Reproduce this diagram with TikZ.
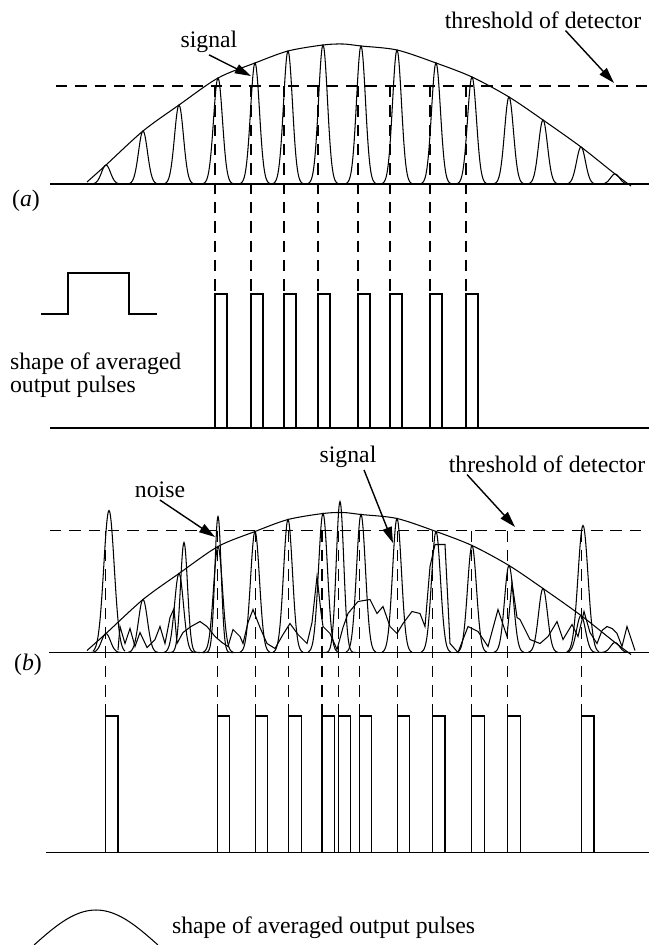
\documentclass[tikz,border=0pt]{standalone}
\usepackage{fontspec}
\setmainfont{Liberation Serif}
\usetikzlibrary{arrows.meta}

% envelope of the signal, #1 = baseline
\newcommand{\envelope}[1]{plot[smooth] coordinates {(87,#1-2) (106,#1-19) (143,#1-53) (179,#1-79) (218,#1-106) (255,#1-121) (288,#1-133) (323,#1-139) (343,#1-140) (361,#1-138) (397,#1-134) (436,#1-121) (472,#1-107) (509,#1-87) (543,#1-64) (581,#1-37) (615,#1-10) (631,#1+2)}}
\newcommand{\sigpulses}{106/19, 143/53, 179/79, 218/106, 255/121, 288/133, 323/139, 361/138, 397/134, 436/121, 472/107, 509/87, 543/64, 581/37, 615/10}

\begin{document}
\begin{tikzpicture}[
  x=0.02cm, y=-0.02cm,
  trace/.style={line width=0.6pt},
  axis/.style={line width=0.9pt},
  thresh/.style={line width=0.6pt, dash pattern=on 6.5pt off 4.5pt},
  drop/.style={line width=0.6pt, dash pattern=on 6.5pt off 4.5pt},
  lbl/.style={font=\fontsize{13.5}{13}\selectfont, inner sep=1pt},
  arr/.style={-{Triangle[length=3.2mm,width=1.9mm]}, line width=0.8pt}
]
\useasboundingbox (0,0) rectangle (649,945);

% Panel (a): signal only
\draw[axis] (50,184) -- (649,184);
\draw[thresh] (56,86) -- (649,86);
\draw[trace] \envelope{184};
\foreach \c/\h in \sigpulses
  \draw[trace] plot[smooth,domain=-15:15,samples=31] ({\c+\x},{184-\h*exp(-((\x)^2)/40)});

\node[lbl] (siga) at (209,42) {signal};
\node[lbl] (thra) at (543,20) {threshold of detector};
\coordinate (sigatip) at (251,76);
\coordinate (thratip) at (614,83);
\draw[arr] (siga.south) -- (sigatip);
\draw[arr] ([xshift=0.45cm]thra.south) -- (thratip);
\node[lbl] (laba) at (26,201) {(\textit{a})};

% Panel (a): output pulses
\draw[axis] (50,428) -- (649,428);
\foreach \p in {215,251,284,318,358,390,430,466} {
  \draw[drop] (\p,86) -- (\p,294);
  \draw[trace] (\p,428) -- (\p,294) -- (\p+12,294) -- (\p+12,428);
}
\draw[trace] (41,314) -- (68,314) -- (68,273) -- (129,273) -- (129,314) -- (157,314);
\node[lbl, align=left, anchor=west] (shapea) at (8,375) {shape of averaged\\output pulses};

% Panel (b): signal with noise
\draw[axis] (49,652.5) -- (649,652.5);
\draw[thresh] (50,530.5) -- (649,530.5);
\draw[trace] \envelope{652.5};
\foreach \c/\h in \sigpulses
  \draw[trace] plot[smooth,domain=-15:15,samples=31] ({\c+\x},{652.5-\h*exp(-((\x)^2)/40)});
% noise spikes
\foreach \c/\h/\w in {109/142/55, 184/110/25, 218/136/20, 340/151/28, 583/127/50}
  \draw[trace] plot[smooth,domain=-16:16,samples=33] ({\c+\x},{652.5-\h*exp(-((\x)^2)/\w)});
% noise floor
\draw[trace] (118,650) \foreach \x/\h in {120/26, 125/9, 130/24, 135/6, 140/20, 147/5, 155/13, 160/26, 165/9, 170/35, 174/44, 177/9, 183/20, 191/26, 200/31, 207/26, 215/16, 222/10, 228/6, 233/23, 240/16, 243/9, 248/30, 253/43, 260/25, 267/9, 275/4, 283/18, 290/29, 298/18, 307/9, 312/30, 317/76, 321/40, 323/26, 330/19, 337/3, 343/25, 348/39, 358/51, 370/53, 377/39, 383/46, 390/26, 397/19, 403/29, 412/41, 420/39, 425/26, 430/86, 435/108, 445/108, 450/9, 458/0, 468/26, 478/21, 488/6, 498/43, 507/16, 512/70, 517/35, 520/33, 530/13, 540/9, 548/16, 557/31, 563/13, 572/28, 578/16, 584/41, 590/20, 597/9, 602/22, 607/26, 612/24, 617/19, 622/6, 627/26, 635/2} { -- (\x,652.5-\h) };

\node[lbl] (noise) at (160,490) {noise};
\node[lbl] (sigb) at (348,457) {signal};
\node[lbl] (thrb) at (547,464) {threshold of detector};
\coordinate (noisetip) at (215,537);
\coordinate (sigbtip) at (393,543);
\coordinate (thrbtip) at (515,527);
\draw[arr] (noise.south) -- (noisetip);
\draw[arr] ([xshift=0.32cm]sigb.south) -- (sigbtip);
\draw[arr] ([xshift=-1.6cm]thrb.south) -- (thrbtip);
\node[lbl] (labb) at (28,665) {(\textit{b})};

% Panel (b): output pulses
\draw[axis] (46,852.3) -- (649,852.3);
\foreach \p in {105.5,217.3,255.4,288.9,322,338.2,359.3,397.4,432.5,471.9,507.9,581.5} {
  \draw[drop] (\p,530.5) -- (\p,716);
  \draw[trace] (\p,852.3) -- (\p,716) -- (\p+12.5,716) -- (\p+12.5,852.3);
}

% legend
\draw[trace] plot[smooth,domain=-62:62,samples=41] ({96+\x},{945-35*cos(\x*90/62)});
\node[lbl, anchor=west] (shapeb) at (170,928) {shape of averaged output pulses};
\end{tikzpicture}
\end{document}
